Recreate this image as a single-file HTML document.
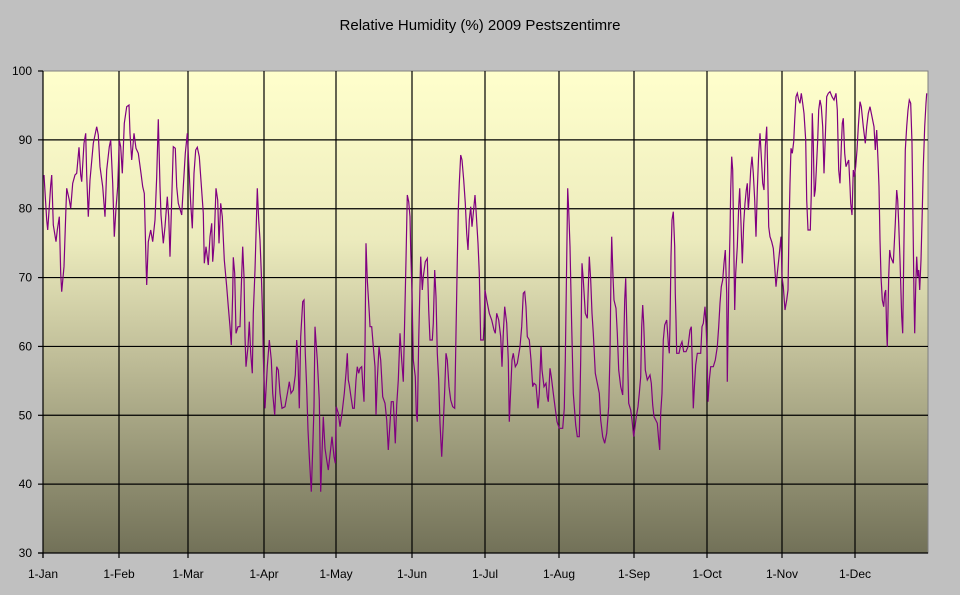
<!DOCTYPE html>
<html><head><meta charset="utf-8"><style>
html,body{margin:0;padding:0;background:#c0c0c0;}
svg{display:block;font-family:"Liberation Sans",Arial,sans-serif;}
</style></head><body>
<svg id="s" width="960" height="595" xmlns="http://www.w3.org/2000/svg">
<defs><linearGradient id="g" x1="0" y1="0" x2="0" y2="1">
<stop offset="0" stop-color="#ffffcc"/><stop offset="0.35" stop-color="#ecebbd"/><stop offset="0.6" stop-color="#bebc97"/><stop offset="1" stop-color="#727158"/>
</linearGradient></defs>
<rect x="0" y="0" width="960" height="595" fill="#c0c0c0"/>
<text x="480" y="30" font-size="15" text-anchor="middle" fill="#000">Relative Humidity (%) 2009 Pestszentimre</text>
<rect x="43" y="71" width="885" height="482" fill="url(#g)" stroke="#808080" stroke-width="1"/>
<g id="grid" stroke="#000" stroke-width="1.2"></g>
<g id="lab" font-size="12" fill="#000"></g>
<path id="p" fill="none" stroke="#800080" stroke-width="1.2"/>
</svg>
<script>
var ns="http://www.w3.org/2000/svg";
var grid=document.getElementById('grid'),lab=document.getElementById('lab');
function el(t,a,par,txt){var e=document.createElementNS(ns,t);for(var k in a)e.setAttribute(k,a[k]);if(txt)e.textContent=txt;par.appendChild(e);}
for(var v=30;v<=100;v+=10){var y=553-(v-30)*482/70;
 if(v>30&&v<100)el('line',{x1:43,x2:928,y1:y,y2:y},grid);
 el('line',{x1:38,x2:43,y1:y,y2:y},grid);
 el('text',{x:32,y:y+4,'text-anchor':'end'},lab,String(v));}
var xs=[43,119,188,264,336,412,485,559,634,707,782,855],
nm=['1-Jan','1-Feb','1-Mar','1-Apr','1-May','1-Jun','1-Jul','1-Aug','1-Sep','1-Oct','1-Nov','1-Dec'];
xs.forEach(function(x,i){if(i>0)el('line',{x1:x,x2:x,y1:71,y2:553},grid);
 el('line',{x1:x,x2:x,y1:553,y2:558},grid);
 el('text',{x:x,y:578,'text-anchor':'middle'},lab,nm[i]);});
el('line',{x1:43,x2:43,y1:71,y2:558},grid);
el('line',{x1:38,x2:928,y1:553,y2:553},grid);
var z1=[42,345,50,480,53,510,58,440,62,375,65,345,70,495,78,545,82,510,88,470,92,640,95,695,102,620,108,440,110,385,118,420,122,445,128,370,135,345,140,340,147,262,152,345,155,365,162,250,167,220,170,345,175,470,180,360,190,250,200,200,205,225,210,320,218,380,225,470,230,330,238,260,242,240,248,370,253,530,258,445,263,380,268,240,272,260,277,340,283,190,290,140,297,135,300,220,305,300,312,220,318,265,325,280,333,340,338,380,343,400,348,605,350,675,355,545,362,510,368,545,375,480,380,350,385,178,390,380,393,465,400,550,405,500,412,410,416,470,420,590,425,420,430,260,436,265,440,380,445,430,455,465,460,380,466,280,472,220,478,345,482,430,487,505,492,340,497,270,502,262,508,290,512,350,520,460,523,610,528,560,535,615,540,530,545,490,548,605,552,555,558,385,563,420,567,550,572,430,577,470,583,600,590,680,595,740,600,800,604,855,608,700,610,592,614,640,618,820,624,800,630,800,634,680,638,560,642,650,645,830,648,920,654,860,658,785,662,880,667,940,670,760,675,630,678,525,682,385,686,480,690,540,694,640,698,780,700,890,705,1045,712,920,718,840,724,900,728,1000,734,1065,740,920,745,930,750,1000,756,1045,765,1040,773,995,778,965,783,1000,790,990,796,945,800,840,804,900,808,1045,812,830,818,725,822,720,826,880,830,985,834,1110,838,1190,844,1295,848,1170,852,1040,855,800,862,900,868,1020,872,1295,876,1180,880,1070,885,1165,890,1200,895,1230,900,1185,906,1130,912,1190,916,1210,919,1040,925,1060,930,1100,936,1060,943,1000,948,940,952,880,955,960];
var z2=[58,975,62,1005,68,1045,73,1045,78,960,82,920,86,940,90,925,95,920,98,970,102,1025,105,860,108,550,112,660,118,760,120,800,125,800,130,860,135,920,138,1065,142,960,147,860,152,900,158,1010,165,1030,170,1080,175,1170,180,1090,184,1025,190,1025,196,1150,200,1035,205,960,210,820,215,900,220,965,223,830,228,600,232,405,236,425,240,470,242,570,246,700,250,900,256,950,259,1060,262,1085,266,840,270,675,272,590,277,690,280,650,286,605,292,595,296,750,300,840,307,840,310,790,314,630,318,710,322,880,326,960,330,1090,335,1190,340,1090,344,990,348,880,352,900,357,980,362,1020,368,1040,374,1045,378,820,382,600,385,450,388,370,392,285,396,300,401,360,406,430,410,520,414,570,418,480,422,440,426,500,430,460,435,405,438,450,444,550,448,640,452,840,460,840,462,800,465,690,470,720,478,760,485,780,492,810,496,820,500,760,506,780,512,830,516,920,520,820,524,740,530,790,535,900,538,1085,542,990,546,900,550,880,556,920,562,910,570,860,575,800,580,700,584,695,588,740,592,830,598,840,603,900,608,980,612,970,618,975,624,1045,628,1000,633,860,636,930,642,980,648,970,652,1010,655,1025,660,925,664,950,670,1000,675,1040,681,1085,688,1105,698,1105,703,1045,706,900,710,600,713,385,716,450,720,560,725,800,730,1000,737,1095,742,1130,748,1130,752,900,756,610,760,660,766,760,772,775,778,590,782,660,786,760,790,820,796,940,802,970,808,1000,812,1080,818,1130,824,1150,830,1120,836,1040,840,880,843,640,845,530,849,650,852,720,858,745,862,820,866,930,872,980,878,1005,884,720,887,655,892,860,896,1030,902,1050,906,1080,911,1130,915,1100,919,1070,924,1040,928,1000,932,950,935,800,938,735,941,790,946,930,952,960];
var z3=[60,945,64,970,68,1035,72,1070,77,1080,82,1090,86,1140,89,1170,92,1060,96,1000,100,840,104,795,110,780,115,850,118,880,120,790,123,590,126,480,130,455,134,560,136,700,138,780,140,880,147,880,152,855,156,845,161,875,168,875,174,860,180,810,184,800,188,960,190,1045,193,985,197,915,202,880,212,880,216,800,220,790,225,740,228,790,231,870,234,1025,238,960,242,920,250,920,256,900,262,860,266,800,270,730,274,680,278,660,282,610,286,570,290,700,292,965,296,690,300,520,302,390,305,290,308,330,311,540,314,750,317,640,322,560,326,440,329,385,333,490,337,610,341,490,345,430,349,390,352,370,355,450,358,410,362,330,366,290,370,340,374,420,378,530,382,390,386,280,390,220,394,290,398,370,402,390,406,260,410,200,413,330,416,500,420,530,425,545,430,565,434,620,438,680,442,640,446,600,450,560,453,530,456,650,460,680,465,750,470,720,474,690,477,510,480,370,483,265,487,280,491,245,494,180,498,110,502,100,506,120,510,130,514,100,518,130,522,160,527,240,530,420,534,510,541,510,544,400,547,160,550,250,553,410,556,390,559,330,563,240,566,150,570,120,574,140,578,200,582,340,586,230,590,110,595,100,600,95,606,110,612,120,618,100,622,150,626,330,630,370,634,260,637,190,640,175,644,280,648,320,652,310,656,300,660,380,662,430,666,465,670,330,673,350,677,320,681,270,685,200,690,125,694,140,700,200,706,250,710,200,715,160,720,140,726,170,732,200,736,270,740,210,744,300,747,380,750,540,753,650,757,720,761,740,764,700,767,690,770,820,772,860,776,650,779,570,782,590,786,600,790,610,796,490,800,390,803,420,806,490,810,600,815,770,818,820,822,540,826,270,830,200,834,150,838,120,842,130,846,250,849,480,852,710,854,820,857,680,860,590,863,650,866,630,869,690,873,600,877,450,880,320,884,200,888,130,890,100];
var d=[];
function add(a,ox,oy){for(var i=0;i<a.length;i+=2)d.push(((ox+a[i]/3)).toFixed(1)+','+((oy+a[i+1]/3)).toFixed(1));}
add(z1,30,60);add(z2,330,60);add(z3,630,60);
document.getElementById('p').setAttribute('d','M'+d.join('L'));
</script>
</body></html>
